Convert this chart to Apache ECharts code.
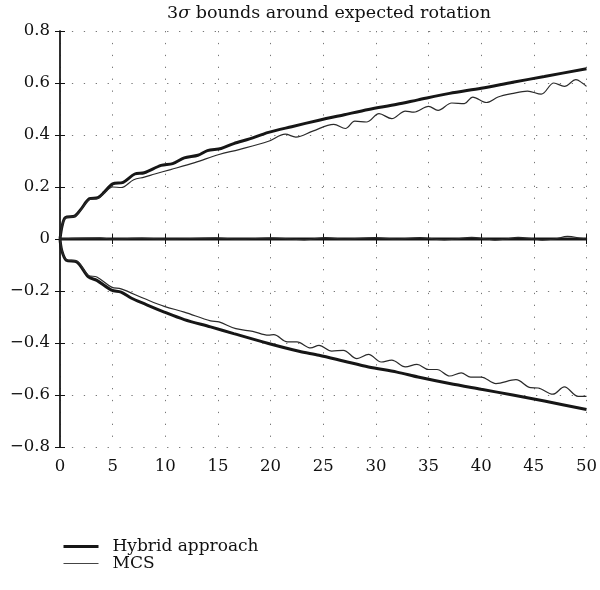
<!DOCTYPE html>
<html>
<head>
<meta charset="utf-8">
<script src="https://cdn.jsdelivr.net/npm/echarts@6/dist/echarts.min.js"></script>
<style>html,body{margin:0;padding:0;background:#fff;}#c{width:600px;height:590px;}</style>
</head>
<body>
<div id="c"></div>
<script>
// ---- data (time t, value) ----
const hybridUpperT = [0,0.2,0.5,1.4,2.0,2.8,3.6,4.2,5.0,6.0,7.1,8.0,9.6,10.7,11.8,13.1,14.0,15.3,16.5,18,19.8,22,24.6,27,29.3,32,34,37,40,43,46,50];
const hybridUpperV = [0,0.05,0.082,0.088,0.115,0.155,0.159,0.18,0.212,0.218,0.25,0.255,0.283,0.29,0.312,0.322,0.34,0.348,0.367,0.385,0.41,0.432,0.457,0.478,0.498,0.518,0.535,0.56,0.58,0.603,0.625,0.655];

const hybridLowerT = [0,0.16,0.6,1.6,2.7,3.5,4.9,5.8,6.8,8.0,9.9,11.8,14.3,16.5,19.8,22.7,24.6,27,29.3,32,34,37,40,43,46,50];
const hybridLowerV = [0,-0.043,-0.082,-0.088,-0.146,-0.159,-0.197,-0.204,-0.228,-0.249,-0.281,-0.31,-0.338,-0.364,-0.402,-0.432,-0.447,-0.47,-0.492,-0.512,-0.531,-0.556,-0.578,-0.6,-0.623,-0.656];

const hybridMeanT = [0,50];
const hybridMeanV = [0,0];

const mcsUpperT = [0,0.5,1.4,2.0,2.8,3.6,4.2,5.0,5.8,7.0,8.0,9.0,10.5,12.8,15.1,17.0,19.8,21.4,22.4,24.0,26.0,27.1,28.0,29.1,30.3,31.5,32.8,33.6,35.0,35.9,37.2,38.4,39.2,40.5,41.6,42.9,44.4,45.7,46.9,47.9,49.0,49.6,50];
const mcsUpperV = [0,0.08,0.087,0.113,0.152,0.156,0.176,0.2,0.198,0.228,0.238,0.25,0.267,0.294,0.325,0.344,0.376,0.403,0.392,0.415,0.441,0.425,0.453,0.45,0.482,0.463,0.492,0.488,0.51,0.495,0.523,0.521,0.546,0.525,0.546,0.559,0.569,0.557,0.6,0.587,0.613,0.6,0.587];

const mcsLowerT = [0,0.6,1.6,2.7,3.5,4.9,5.8,8.0,9.9,11.8,14.3,15.1,16.7,18.3,19.8,20.3,21.6,22.5,23.8,24.6,25.8,26.9,28.2,29.3,30.5,31.5,32.8,33.9,35.0,35.8,37.0,38.1,39.0,40.0,41.4,43.3,44.7,45.4,46.8,47.9,49.2,50];
const mcsLowerV = [0,-0.08,-0.085,-0.14,-0.146,-0.185,-0.192,-0.229,-0.259,-0.281,-0.315,-0.319,-0.345,-0.355,-0.37,-0.368,-0.396,-0.396,-0.419,-0.409,-0.431,-0.428,-0.46,-0.444,-0.473,-0.466,-0.492,-0.482,-0.502,-0.502,-0.527,-0.515,-0.531,-0.531,-0.556,-0.541,-0.572,-0.573,-0.597,-0.569,-0.605,-0.605];

const mcsMeanT = [0,3.8,5,7.8,10,14.8,17,20.1,22,23.2,24,25.2,27,29.9,32,34.2,35.5,36.5,37.5,39.1,40.5,41.3,42.3,43.5,45,45.8,47,48.2,49.5,50];
const mcsMeanV = [0,0.004,0,0.003,0,0.004,0,0.004,0,-0.003,0,0.005,0,0.005,0,0.005,0,-0.003,0,0.006,0,-0.004,0,0.006,0,-0.004,0,0.01,0.003,0];

const xTicks = [0,5,10,15,20,25,30,35,40,45,50];
const yTicks = [-0.8,-0.6,-0.4,-0.2,0,0.2,0.4,0.6,0.8];
const yTickLabels = ['−0.8','−0.6','−0.4','−0.2','0','0.2','0.4','0.6','0.8'];
const legendNames = ['Hybrid approach','MCS'];

// ---- chart ----
const pairs = (t, v) => t.map((x, i) => [x, v[i]]);
const FONT = 'DejaVu Serif';
const gridDots = { show: true, lineStyle: { color: '#777', width: 1, type: [1.3, 10.6] } };
const yLabel = v => { const i = yTicks.findIndex(t => Math.abs(t - v) < 1e-9); return i >= 0 ? yTickLabels[i] : ''; };

const chart = echarts.init(document.getElementById('c'), null, { renderer: 'canvas' });

function hybrid(data) {
  return { name: legendNames[0], type: 'line', data, symbol: 'none', smooth: 0.3,
    lineStyle: { color: '#161616', width: 3 }, itemStyle: { color: '#161616' }, z: 2 };
}
function mcs(data) {
  return { name: legendNames[1], type: 'line', data, symbol: 'none', smooth: 0.35,
    lineStyle: { color: '#2a2a2a', width: 1.2 }, itemStyle: { color: '#2a2a2a' }, z: 3 };
}

chart.setOption({
  animation: false,
  backgroundColor: '#fff',
  title: {
    text: '3{i|σ} bounds around expected rotation',
    left: 324, top: -1, textAlign: 'center',
    textStyle: { fontFamily: FONT, fontSize: 17.5, fontWeight: 'normal', color: '#111',
      rich: { i: { fontFamily: FONT, fontSize: 17.5, fontStyle: 'italic', color: '#111' } } }
  },
  legend: {
    data: [
      { name: legendNames[0], lineStyle: { width: 3, color: '#161616' } },
      { name: legendNames[1], lineStyle: { width: 1.2, color: '#444' } }
    ],
    orient: 'vertical', left: 57, top: 533,
    itemWidth: 35, itemHeight: 14, itemGap: 0,
    itemStyle: { opacity: 0, color: 'rgba(0,0,0,0)', borderWidth: 0 },
    textStyle: { fontFamily: FONT, fontSize: 17, color: '#111', padding: [0, 0, 0, 9] }
  },
  grid: { left: 60, right: 11, top: 31, bottom: 143, containLabel: false },
  xAxis: [
    { type: 'value', position: 'bottom', min: 0, max: 50, interval: 5,
      axisLine: { show: true, lineStyle: { color: '#111', width: 1.5 } },
      axisTick: { show: true, inside: true, length: 5, lineStyle: { color: '#111' } },
      axisLabel: { fontFamily: FONT, fontSize: 16.5, color: '#111', margin: 11 },
      splitLine: gridDots },
    { type: 'value', position: 'top', min: 0, max: 50, interval: 5,
      axisLine: { show: false },
      axisTick: { show: true, inside: true, length: 5, lineStyle: { color: '#111' } },
      axisLabel: { show: false }, splitLine: { show: false } }
  ],
  yAxis: [
    { type: 'value', position: 'left', min: -0.8, max: 0.8, interval: 0.2,
      axisLine: { show: true, lineStyle: { color: '#666', width: 1.5 } },
      axisTick: { show: true, inside: true, length: 5, lineStyle: { color: '#111' } },
      axisLabel: { fontFamily: FONT, fontSize: 16.5, color: '#111', margin: 10, formatter: yLabel },
      splitLine: gridDots },
    { type: 'value', position: 'right', min: -0.8, max: 0.8, interval: 0.2,
      axisLine: { show: true, lineStyle: { color: '#111', width: 1.5 } },
      axisTick: { show: true, inside: true, length: 5, lineStyle: { color: '#111' } },
      axisLabel: { show: false }, splitLine: { show: false } }
  ],
  series: [
    hybrid(pairs(hybridUpperT, hybridUpperV)),
    hybrid(pairs(hybridLowerT, hybridLowerV)),
    hybrid(pairs(hybridMeanT, hybridMeanV)),
    mcs(pairs(mcsUpperT, mcsUpperV)),
    mcs(pairs(mcsLowerT, mcsLowerV)),
    mcs(pairs(mcsMeanT, mcsMeanV))
  ]
});
</script>
</body>
</html>
